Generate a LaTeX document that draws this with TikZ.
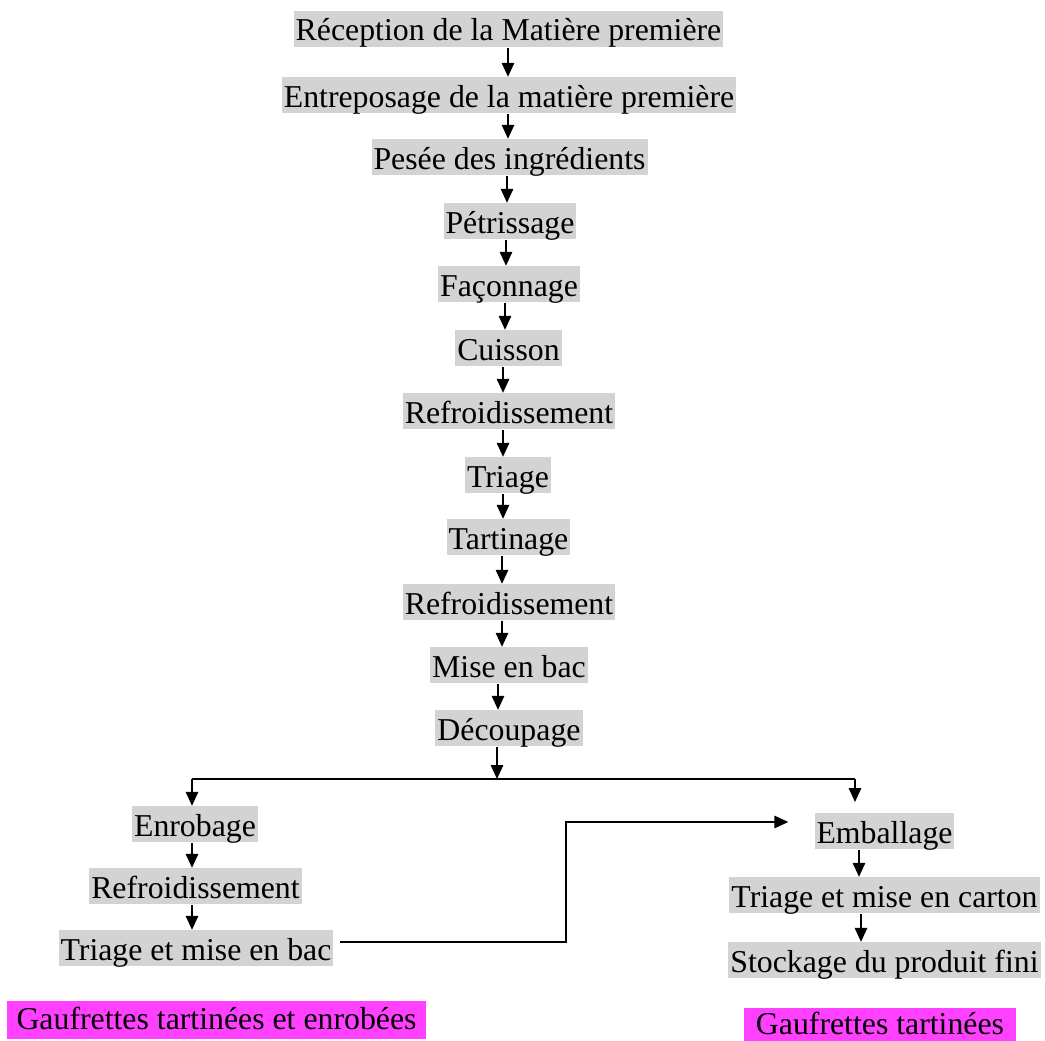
\documentclass[tikz,border=0pt]{standalone}
\usepackage{fontspec}
\setmainfont{Liberation Serif}
\usetikzlibrary{arrows.meta}
\definecolor{boxgray}{HTML}{D3D3D3}
\definecolor{pinkmag}{HTML}{FF40FF}
\tikzset{
  stepbox/.style={fill=boxgray, inner xsep=2pt, inner ysep=0pt, text height=30pt, text depth=6pt, font=\fontsize{31.8}{36}\selectfont},
  labbox/.style={fill=pinkmag, inner xsep=10pt, inner ysep=0pt, text height=28pt, text depth=10pt, font=\fontsize{31.8}{36}\selectfont},
  arr/.style={line width=1.4pt, -{Triangle[length=14pt,width=12.5pt]}, shorten <=1pt},
  plain/.style={line width=1.4pt}
}
\begin{document}
\begin{tikzpicture}[x=1pt,y=-1pt]
\useasboundingbox (0,0) rectangle (1045,1041);
% main column
\node[stepbox] (r1) at (508.5,29) {Réception de la Matière première};
\node[stepbox] (r2) at (509,95) {Entreposage de la matière première};
\node[stepbox] (r3) at (509.5,157) {Pesée des ingrédients};
\node[stepbox] (r4) at (510,221) {Pétrissage};
\node[stepbox] (r5) at (509,284) {Façonnage};
\node[stepbox] (r6) at (508.5,348) {Cuisson};
\node[stepbox] (r7) at (509,411) {Refroidissement};
\node[stepbox] (r8) at (508,475) {Triage};
\node[stepbox] (r9) at (508.5,537) {Tartinage};
\node[stepbox] (r10) at (509,602) {Refroidissement};
\node[stepbox] (r11) at (509,665) {Mise en bac};
\node[stepbox] (r12) at (509,728) {Découpage};
% left branch
\node[stepbox] (l1) at (195,824) {Enrobage};
\node[stepbox] (l2) at (195.5,886) {Refroidissement};
\node[stepbox] (l3) at (196,948) {Triage et mise en bac};
% right branch
\node[stepbox] (e1) at (884.5,831) {Emballage};
\node[stepbox] (e2) at (884.5,895) {Triage et mise en carton};
\node[stepbox] (e3) at (884.5,960) {Stockage du produit fini};
% labels
\node[labbox] (m1) at (216.5,1020) {Gaufrettes tartinées et enrobées};
\node[labbox, inner xsep=12pt, text height=26pt, text depth=8pt] (m2) at (880,1025) {Gaufrettes tartinées};
% arrow x positions
\coordinate (x1) at (508,0);
\coordinate (x2) at (508,0);
\coordinate (x3) at (507,0);
\coordinate (x4) at (506,0);
\coordinate (x5) at (505,0);
\coordinate (x6) at (503,0);
\coordinate (x7) at (503,0);
\coordinate (x8) at (503,0);
\coordinate (x9) at (502,0);
\coordinate (x10) at (502,0);
\coordinate (x11) at (498,0);
\draw[arr] (r1.south -| x1) -- (r2.north -| x1);
\draw[arr] (r2.south -| x2) -- (r3.north -| x2);
\draw[arr] (r3.south -| x3) -- (r4.north -| x3);
\draw[arr] (r4.south -| x4) -- (r5.north -| x4);
\draw[arr] (r5.south -| x5) -- (r6.north -| x5);
\draw[arr] (r6.south -| x6) -- (r7.north -| x6);
\draw[arr] (r7.south -| x7) -- (r8.north -| x7);
\draw[arr] (r8.south -| x8) -- (r9.north -| x8);
\draw[arr] (r9.south -| x9) -- (r10.north -| x9);
\draw[arr] (r10.south -| x10) -- (r11.north -| x10);
\draw[arr] (r11.south -| x11) -- (r12.north -| x11);
% split
\coordinate (j) at (497,779);
\coordinate (jl) at (192,779);
\coordinate (jr) at (855,779);
\coordinate (jre) at (855,802);
\draw[arr] (r12.south -| j) -- (j);
\draw[plain] (jl) -- (jr);
\draw[arr, shorten <=0pt] (jl) -- (l1.north -| jl);
\draw[arr, shorten <=0pt] (jr) -- (jre);
% left column arrows
\coordinate (xl) at (192,0);
\draw[arr] (l1.south -| xl) -- (l2.north -| xl);
\draw[arr] (l2.south -| xl) -- (l3.north -| xl);
% right column arrows
\coordinate (xr1) at (859,0);
\coordinate (xr2) at (861,0);
\draw[arr] (e1.south -| xr1) -- (e2.north -| xr1);
\draw[arr] (e2.south -| xr2) -- (e3.north -| xr2);
% transfer
\coordinate (b1) at (566,942);
\coordinate (b2) at (566,822);
\draw[arr, shorten <=0pt, shorten >=26pt] ([xshift=6pt,yshift=6pt]l3.east) -- (b1) -- (b2) -- (b2 -| e1.west);
\end{tikzpicture}
\end{document}
